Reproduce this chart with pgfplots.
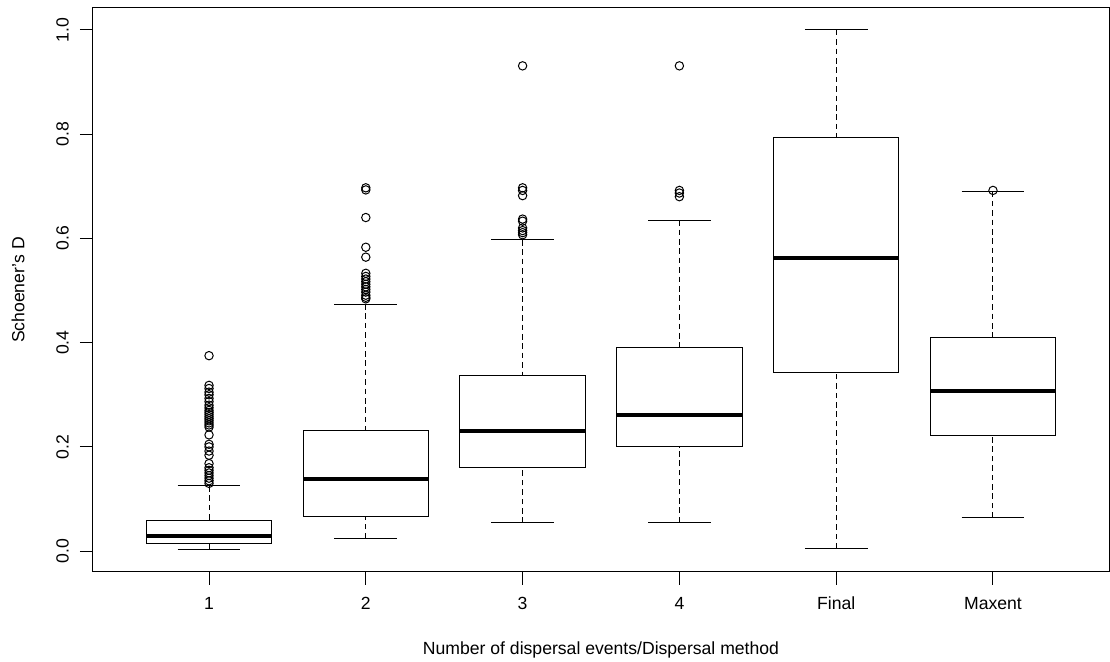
\documentclass[border=0pt]{standalone}
\usepackage{fontspec}
\setmainfont{Liberation Sans}
\usepackage{pgfplots}
\pgfplotsset{compat=1.18}
\usepgfplotslibrary{statistics}
\begin{document}
\fontsize{8.8}{10.5}\selectfont
\begin{tikzpicture}
\begin{axis}[
  width=508pt, height=282pt, scale only axis,
  xmin=0.26, xmax=6.74, ymin=-0.04, ymax=1.042,
  xtick={1,2,3,4,5,6}, xticklabels={1,2,3,4,Final,Maxent},
  ytick={0,0.2,0.4,0.6,0.8,1.0}, yticklabels={0.0,0.2,0.4,0.6,0.8,1.0},
  tick align=outside, tick pos=left, major tick length=6.5pt,
  tick style={black, line width=0.5pt},
  axis line style={line width=0.5pt},
  /pgf/number format/assume math mode=true,
  ticklabel style={font=\fontsize{8.8}{10.5}\selectfont},
  yticklabel style={rotate=90, anchor=south, inner sep=5.4pt},
  xticklabel style={anchor=north, inner sep=5.9pt},
  xlabel={Number of dispersal events/Dispersal method},
  ylabel={Schoener's D},
  label style={font=\fontsize{8.8}{10.5}\selectfont},
  xlabel style={at={([yshift=-39pt]axis description cs:0.5,0)}, anchor=center},
  ylabel style={at={([xshift=-37.5pt]axis description cs:0,0.5)}, anchor=center},
  boxplot/draw direction=y,
  boxplot/box extend=0.8, boxplot/whisker extend=0.4,
  boxplot/every median/.style={line width=2pt},
  boxplot/draw/lower whisker/.code={
    \draw[black, line width=0.5pt, dash pattern=on 2.8pt off 1.9pt]
      (boxplot box cs:\pgfplotsboxplotvalue{lower whisker},0.5) --
      (boxplot box cs:\pgfplotsboxplotvalue{lower quartile},0.5);
    \draw[black, line width=0.5pt]
      (boxplot whisker cs:\pgfplotsboxplotvalue{lower whisker},0) --
      (boxplot whisker cs:\pgfplotsboxplotvalue{lower whisker},1);
  },
  boxplot/draw/upper whisker/.code={
    \draw[black, line width=0.5pt, dash pattern=on 2.8pt off 1.9pt]
      (boxplot box cs:\pgfplotsboxplotvalue{upper whisker},0.5) --
      (boxplot box cs:\pgfplotsboxplotvalue{upper quartile},0.5);
    \draw[black, line width=0.5pt]
      (boxplot whisker cs:\pgfplotsboxplotvalue{upper whisker},0) --
      (boxplot whisker cs:\pgfplotsboxplotvalue{upper whisker},1);
  },
  every axis plot/.append style={black, line width=0.5pt, mark=o, mark size=2.1pt, mark options={solid, line width=0.5pt}},
]
% 1
\addplot[boxplot prepared={draw position=1, lower whisker=0.004, lower quartile=0.014, median=0.029, upper quartile=0.058, upper whisker=0.125}]
  table[row sep=\\, y index=0]{0.375\\ 0.318\\ 0.312\\ 0.305\\ 0.300\\ 0.293\\ 0.287\\ 0.280\\ 0.275\\ 0.270\\ 0.266\\ 0.262\\ 0.258\\ 0.254\\ 0.250\\ 0.246\\ 0.242\\ 0.238\\ 0.223\\ 0.205\\ 0.200\\ 0.192\\ 0.184\\ 0.168\\ 0.160\\ 0.155\\ 0.150\\ 0.145\\ 0.140\\ 0.135\\ 0.130\\};
% 2
\addplot[boxplot prepared={draw position=2, lower whisker=0.024, lower quartile=0.066, median=0.138, upper quartile=0.231, upper whisker=0.474}]
  table[row sep=\\, y index=0]{0.697\\ 0.693\\ 0.640\\ 0.583\\ 0.564\\ 0.533\\ 0.527\\ 0.522\\ 0.517\\ 0.512\\ 0.507\\ 0.502\\ 0.497\\ 0.491\\ 0.487\\ 0.484\\};
% 3
\addplot[boxplot prepared={draw position=3, lower whisker=0.054, lower quartile=0.161, median=0.231, upper quartile=0.3365, upper whisker=0.597}]
  table[row sep=\\, y index=0]{0.931\\ 0.697\\ 0.692\\ 0.682\\ 0.637\\ 0.633\\ 0.620\\ 0.615\\ 0.611\\ 0.607\\};
% 4
\addplot[boxplot prepared={draw position=4, lower whisker=0.055, lower quartile=0.200, median=0.262, upper quartile=0.390, upper whisker=0.635}]
  table[row sep=\\, y index=0]{0.931\\ 0.692\\ 0.687\\ 0.680\\};
% Final
\addplot[boxplot prepared={draw position=5, lower whisker=0.005, lower quartile=0.343, median=0.562, upper quartile=0.793, upper whisker=1.0}]
  coordinates {};
% Maxent
\addplot[boxplot prepared={draw position=6, lower whisker=0.064, lower quartile=0.222, median=0.3065, upper quartile=0.410, upper whisker=0.690}]
  table[row sep=\\, y index=0]{0.692\\};
\end{axis}
\pgfresetboundingbox
\path ([xshift=-46.5pt,yshift=-45pt]current axis.south west) rectangle ([xshift=0.5pt,yshift=4pt]current axis.north east);
\end{tikzpicture}
\end{document}
